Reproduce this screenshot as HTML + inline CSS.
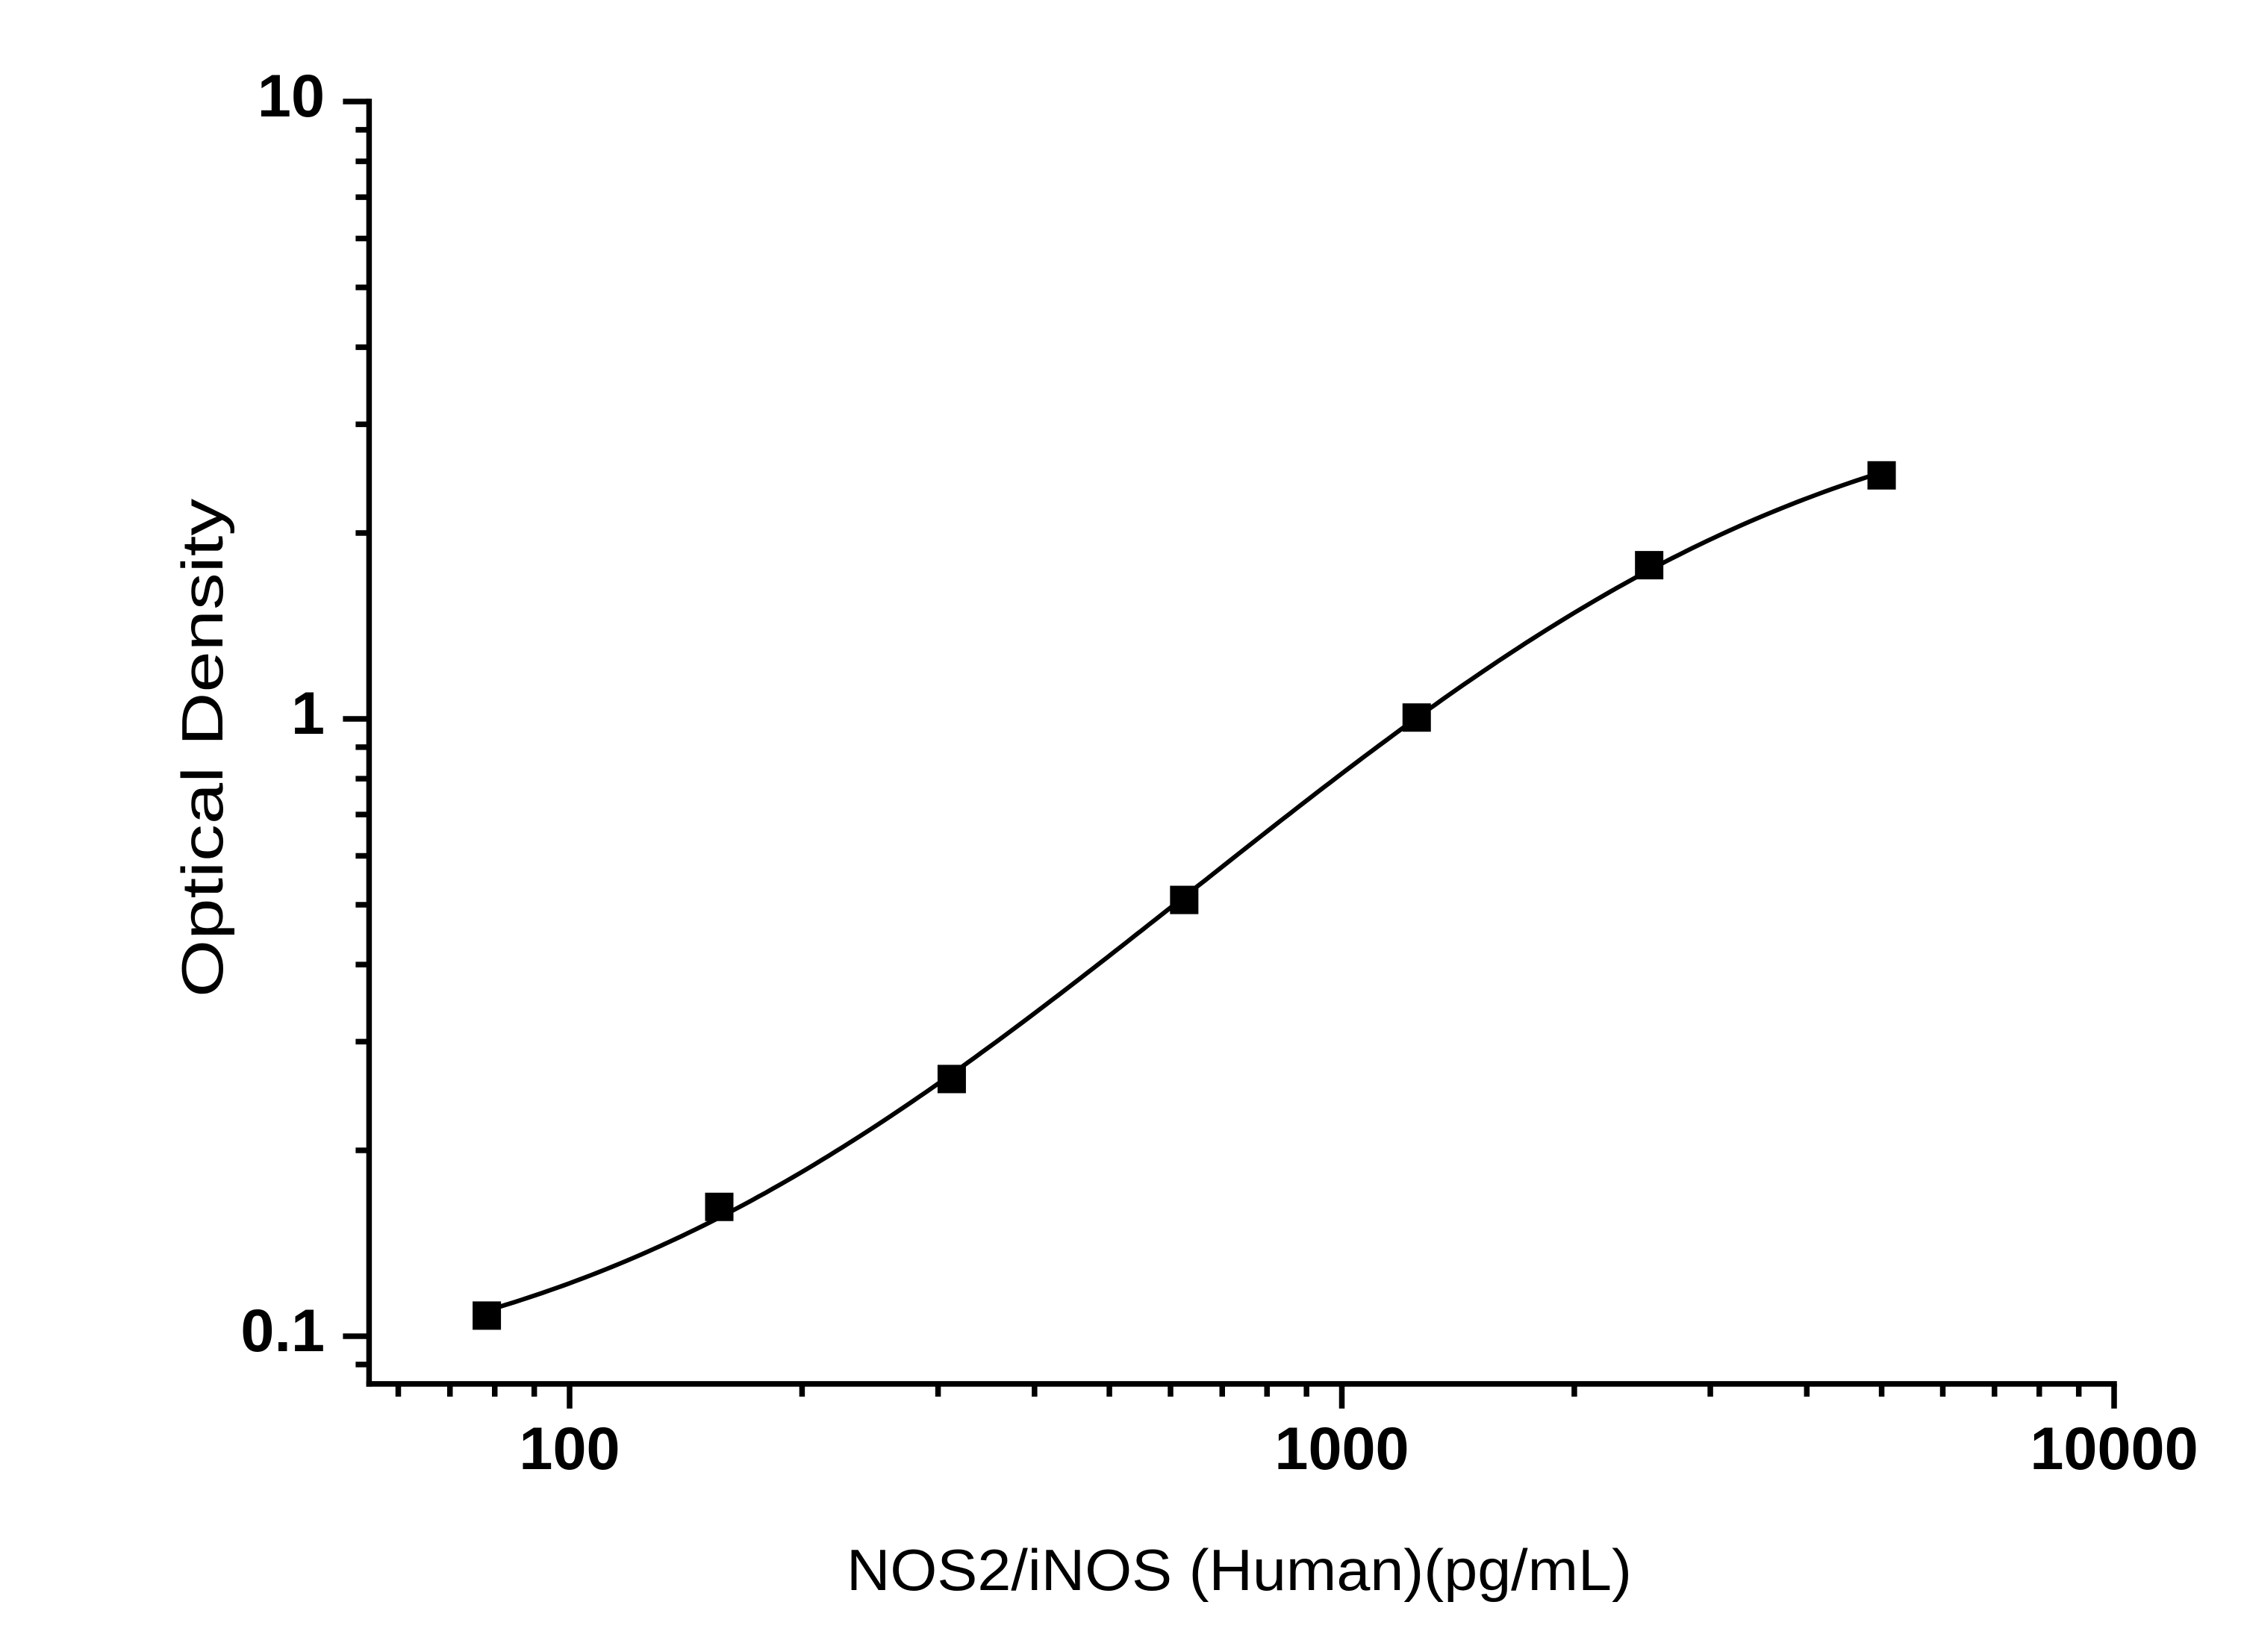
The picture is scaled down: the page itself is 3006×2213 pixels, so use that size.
<!DOCTYPE html>
<html><head><meta charset="utf-8"><style>
html,body{margin:0;padding:0;background:#fff;}
svg{display:block;}
</style></head><body>
<svg id="chart" width="3006" height="2213" viewBox="0 0 3006 2213" xmlns="http://www.w3.org/2000/svg">
<rect width="3006" height="2213" fill="#fff"/>
<g id="axes"></g>
<g id="marks"></g>
<text transform="translate(298,1002) rotate(-90)" text-anchor="middle" font-family="Liberation Sans, sans-serif" font-size="78" textLength="668" lengthAdjust="spacingAndGlyphs">Optical Density</text>
<text x="1660" y="2130" text-anchor="middle" font-family="Liberation Sans, sans-serif" font-size="78" textLength="1052" lengthAdjust="spacingAndGlyphs">NOS2/iNOS (Human)(pg/mL)</text>
</svg>
<script>
const concentrations = [78.125, 156.25, 312.5, 625, 1250, 2500, 5000];
const odValues = [0.108, 0.162, 0.261, 0.509, 1.005, 1.774, 2.48];
const xTickValues = [100, 1000, 10000];
const xTickLabels = ["100", "1000", "10000"];
const yTickValues = [0.1, 1, 10];
const yTickLabels = ["0.1", "1", "10"];

const NS = "http://www.w3.org/2000/svg";
const X0 = 763, XDEC = 1034.5;
const Y0 = 963, YDEC = 827;
const xMin = 55, xMax = 10000, yMin = 0.0837, yMax = 10;
const sx = v => X0 + (Math.log10(v) - 2) * XDEC;
const sy = v => Y0 - Math.log10(v) * YDEC;
const axesG = document.getElementById('axes');
const marksG = document.getElementById('marks');
function mk(tag, attrs, parent){ const e=document.createElementNS(NS,tag); for(const k in attrs) e.setAttribute(k,attrs[k]); parent.appendChild(e); return e; }

const pxLeft = sx(xMin), pxRight = sx(xMax), pxBottom = sy(yMin), pxTop = sy(yMax);
const yAxis = mk('line',{x1:pxLeft,y1:pxBottom+3.75,x2:pxLeft,y2:pxTop-3.75,stroke:'#000','stroke-width':7.5},axesG);


const xAxis = mk('line',{x1:pxLeft-3.75,y1:pxBottom,x2:pxRight+3.75,y2:pxBottom,stroke:'#000','stroke-width':7.5},axesG);



for (let d=-2; d<=1; d++){
  for (let m=1; m<=9; m++){
    const v = m*Math.pow(10,d);
    if (v < yMin-1e-9 || v > yMax+1e-9) continue;
    const major = m===1;
    const t = mk('line',{x1:pxLeft,y1:sy(v),x2:pxLeft-(major?35:18),y2:sy(v),stroke:'#000','stroke-width':7.5},axesG);
    
    
  }
}
yTickValues.forEach((v,i)=>{
  const t = mk('text',{x:435,y:sy(v)+20,'text-anchor':'end','font-family':'Liberation Sans, sans-serif','font-weight':'bold','font-size':81},axesG);
  t.textContent = yTickLabels[i];
  
  
});
for (let d=1; d<=4; d++){
  for (let m=1; m<=9; m++){
    const v = m*Math.pow(10,d);
    if (v < xMin || v > xMax+1e-9) continue;
    const major = m===1;
    const t = mk('line',{x1:sx(v),y1:pxBottom,x2:sx(v),y2:pxBottom+(major?33:17),stroke:'#000','stroke-width':7.5},axesG);
    
    
  }
}
xTickValues.forEach((v,i)=>{
  const t = mk('text',{x:sx(v),y:1968,'text-anchor':'middle','font-family':'Liberation Sans, sans-serif','font-weight':'bold','font-size':81},axesG);
  t.textContent = xTickLabels[i];
  
  
});

function model(p, x){ const A=p[0],B=p[1],C=p[2],D=p[3]; return D + (A-D)/(1+Math.pow(x/Math.pow(10,C),B)); }
function err(p){ if(p[1]<=0) return 1e9; let s=0; for(let i=0;i<concentrations.length;i++){ const f=model(p,concentrations[i]); if(!(f>0)) return 1e9; const r=Math.log10(f)-Math.log10(odValues[i]); s+=r*r; } return s; }
function nelder(f,x0){
  const n=x0.length; let pts=[x0.slice()];
  for(let i=0;i<n;i++){ const q=x0.slice(); q[i]+= (Math.abs(q[i])*0.2||0.1); pts.push(q); }
  let vals=pts.map(f);
  for(let it=0; it<4000; it++){
    const idx=pts.map((_,i)=>i).sort((a,b)=>vals[a]-vals[b]); pts=idx.map(i=>pts[i]); vals=idx.map(i=>vals[i]);
    const c=new Array(n).fill(0); for(let i=0;i<n;i++) for(let j=0;j<n;j++) c[j]+=pts[i][j]/n;
    const w=pts[n], xr=c.map((v,j)=>v+(v-w[j])), fr=f(xr);
    if(fr<vals[0]){ const xe=c.map((v,j)=>v+2*(v-w[j])), fe=f(xe); if(fe<fr){pts[n]=xe;vals[n]=fe;} else {pts[n]=xr;vals[n]=fr;} }
    else if(fr<vals[n-1]){ pts[n]=xr; vals[n]=fr; }
    else { const xc=c.map((v,j)=>v+0.5*(w[j]-v)), fc=f(xc);
      if(fc<vals[n]){ pts[n]=xc; vals[n]=fc; }
      else { for(let i=1;i<=n;i++){ pts[i]=pts[i].map((v,j)=>pts[0][j]+0.5*(v-pts[0][j])); vals[i]=f(pts[i]); } } }
  }
  return pts[0];
}
const fitP = nelder(err, [odValues[0]*0.7, 1.2, Math.log10(concentrations[4]), odValues[odValues.length-1]*1.4]);
let pathD='';
const cStart = concentrations[0], cEnd = concentrations[concentrations.length-1];
for(let i=0;i<=200;i++){
  const v = Math.pow(10, Math.log10(cStart)+(Math.log10(cEnd)-Math.log10(cStart))*i/200);
  pathD += (i?'L':'M') + sx(v).toFixed(1) + ',' + sy(model(fitP,v)).toFixed(1);
}
const curve = mk('path',{d:pathD,fill:'none',stroke:'#000','stroke-width':6,'stroke-linecap':'round'},marksG);



concentrations.forEach((c,i)=>{
  const r = mk('rect',{x:sx(c)-19,y:sy(odValues[i])-19,width:38,height:38,fill:'#000'},marksG);
  
  
});
</script>
</body></html>
